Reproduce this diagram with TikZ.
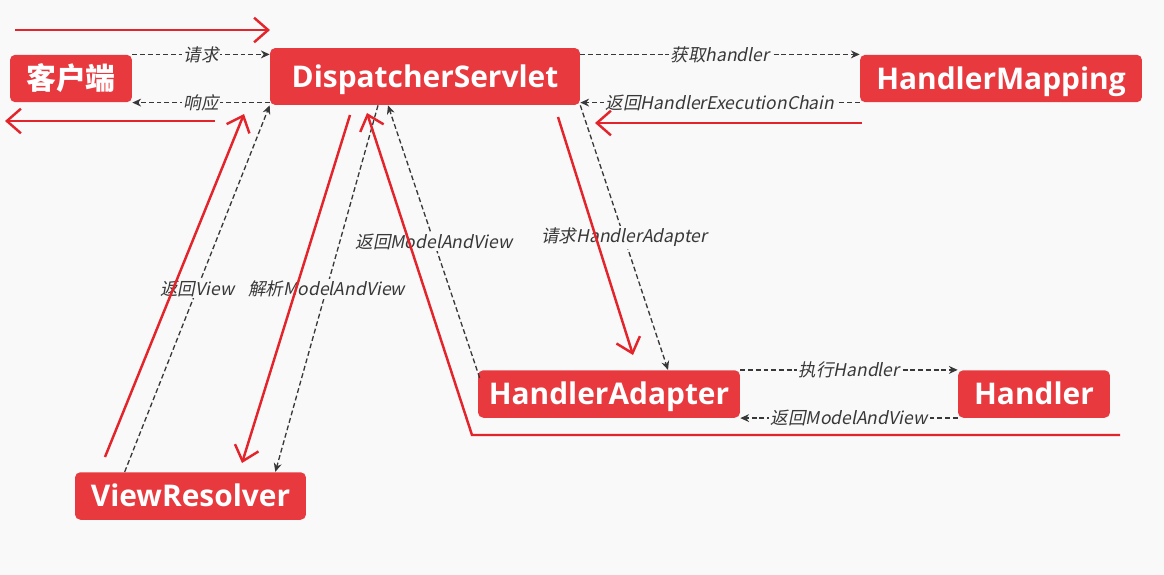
\documentclass[tikz,border=0pt]{standalone}
\usepackage{fontspec}
\setmainfont{Open Sans}
\newfontfamily\cjk{Noto Sans CJK SC}
\newfontfamily\cjkit[FakeSlant=0.2]{Noto Sans CJK SC}
\usepackage{xcolor}
\usetikzlibrary{arrows.meta,calc}
\definecolor{boxred}{HTML}{E8393F}
\definecolor{penred}{HTML}{E3242B}
\definecolor{dashgray}{HTML}{383838}
\definecolor{paper}{HTML}{F9F9F9}

\begin{document}
\begin{tikzpicture}[
  x=0.02cm, y=-0.02cm,
  comp/.style={rectangle,fill=boxred,rounded corners=3pt,text=white,inner sep=0pt,
    minimum height=0.95cm,text height=12.2pt,text depth=0pt,
    font=\fontsize{17}{20}\selectfont\bfseries},
  call/.style={draw=dashgray,line width=0.75pt,dash pattern=on 2.8pt off 1.6pt,
    -{Stealth[length=5pt,width=4.5pt]}},
  lbl/.style={fill=paper,text=dashgray,inner sep=1pt,font=\cjkit\fontsize{10}{12}\selectfont},
  flow/.style={draw=penred,line width=1.4pt,-{Straight Barb[length=8pt,width=14pt]}},
]
\fill[paper] (0,0) rectangle (1164,575);
\useasboundingbox (0,0) rectangle (1164,575);

% components
\node[comp,minimum width=2.44cm] (client) at (71,78.5) {\cjk 客户端};
\node[comp,minimum width=6.2cm,minimum height=1.14cm] (ds) at (425,76.5) {DispatcherServlet};
\node[comp,minimum width=5.64cm] (hm) at (1001,78.5) {HandlerMapping};
\node[comp,minimum width=5.24cm] (ha) at (609,394) {HandlerAdapter};
\node[comp,minimum width=3.04cm] (hd) at (1034,394) {Handler};
\node[comp,minimum width=4.62cm] (vr) at (190.5,496) {ViewResolver};

% calls
\draw[call] (client.north east) -- node[lbl]{请求} (client.north east -| ds.west);
\draw[call] (ds.west |- client.south east) -- node[lbl]{响应} (client.south east);
\draw[call] (ds.east |- hm.north west) -- node[lbl]{获取handler} (hm.north west);
\draw[call] (hm.south west) -- node[lbl]{返回HandlerExecutionChain} (hm.south west -| ds.east);
\draw[call] (ds.south east) -- node[lbl]{请求HandlerAdapter} ($(ha.north)+(59,0)$);
\draw[call] ($(ha.north west)+(2,8)$) -- node[lbl]{返回ModelAndView} ($(ds.south)+(-37,0)$);
\draw[call] ($(ds.south)+(-47,0)$) -- node[lbl]{解析ModelAndView} ($(vr.north east)+(-31,0)$);
\draw[call] ($(vr.north west)+(50,0)$) -- node[lbl]{返回View} (ds.south west);
\draw[call] (ha.north east) -- node[lbl]{执行Handler} (ha.north east -| hd.west);
\draw[call] (hd.south west) -- node[lbl]{返回ModelAndView} (hd.south west -| ha.east);

% red flow
\coordinate (inA) at (15,30);       \coordinate (inB) at (270,30);
\coordinate (outA) at (215,121);    \coordinate (outB) at (5,121);
\coordinate (chainA) at (862,123);  \coordinate (chainB) at (595,123);
\coordinate (adaptA) at (558,117);  \coordinate (adaptB) at (633,355);
\coordinate (viewA) at (105,457);   \coordinate (viewB) at (244,114);
\coordinate (parseA) at (350,115);  \coordinate (parseB) at (242,463);
\coordinate (backA) at (1120,435);  \coordinate (backB) at (472,435);
\coordinate (backC) at (367,113);
\draw[flow] (inA) -- (inB);
\draw[flow] (outA) -- (outB);
\draw[flow] (chainA) -- (chainB);
\draw[flow] (adaptA) -- (adaptB);
\draw[flow] (viewA) -- (viewB);
\draw[flow] (parseA) -- (parseB);
\draw[flow] (backA) -- (backB) -- (backC);
\end{tikzpicture}
\end{document}
